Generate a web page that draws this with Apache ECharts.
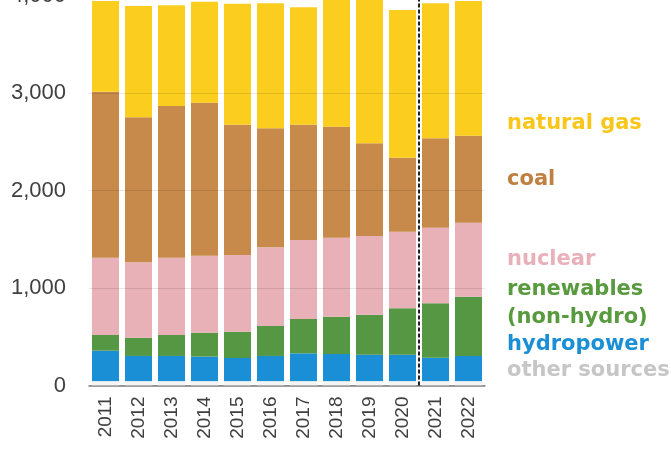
<!DOCTYPE html>
<html>
<head>
<meta charset="utf-8">
<style>
  html, body { margin: 0; padding: 0; background: #fff; }
  #chart { width: 671px; height: 452px; }
</style>
<script src="https://cdn.jsdelivr.net/npm/echarts@6/dist/echarts.min.js"></script>
</head>
<body>
<div id="chart"></div>
<script>
// US electricity generation by source (billion kWh)
const years = ["2011", "2012", "2013", "2014", "2015", "2016", "2017", "2018", "2019", "2020", "2021", "2022"];
const otherSources = [45, 45, 45, 45, 45, 45, 45, 45, 45, 45, 45, 45];
const hydropower = [312, 258, 258, 251, 237, 258, 285, 278, 271, 271, 240, 258];
const renewables = [161, 187, 215, 246, 270, 307, 352, 383, 410, 476, 558, 608];
const nuclear = [793, 774, 793, 789, 786, 807, 810, 810, 807, 785, 775, 759];
const coal = [1702, 1487, 1556, 1570, 1337, 1221, 1183, 1138, 951, 760, 917, 892];
const naturalGas = [931, 1141, 1033, 1036, 1241, 1282, 1204, 1376, 1516, 1514, 1385, 1382];
const yTicks = [0, 1000, 2000, 3000, 4000];
const forecastSplit = 9.5; // between 2020 and 2021

const chart = echarts.init(document.getElementById("chart"));

function barSeries(name, data, color) {
  return {
    name: name,
    type: "bar",
    stack: "total",
    data: data,
    barWidth: 27,
    clip: false,
    itemStyle: { color: color },
    emphasis: { disabled: true },
  };
}

const legendItems = [
  { text: "natural gas", y: 125, color: "#F9C619" },
  { text: "coal", y: 181, color: "#C0803F" },
  { text: "nuclear", y: 261, color: "#E8B0B8" },
  { text: "renewables", y: 291, color: "#589A3E" },
  { text: "(non-hydro)", y: 319, color: "#589A3E" },
  { text: "hydropower", y: 346, color: "#1B8FD6" },
  { text: "other sources", y: 372, color: "#C6C6C6" },
];

const option = {
  animation: false,
  grid: { left: 89, right: 186, top: -4.5, bottom: 66.5, outerBoundsMode: "none", containLabel: false },
  xAxis: [
    {
      type: "category",
      data: years,
      axisLine: { lineStyle: { color: "#7f7f7f", width: 1.5 } },
      axisTick: { length: 5, lineStyle: { color: "#7f7f7f", width: 1.5 } },
      axisLabel: {
        rotate: 90,
        margin: 11,
        color: "#404040",
        fontSize: 19,
        fontFamily: "Liberation Sans",
      },
    },
    {
      type: "value",
      min: -0.5,
      max: 11.5,
      show: false,
    },
  ],
  yAxis: {
    type: "value",
    min: 0,
    max: 4000,
    interval: 1000,
    z: 3,
    axisLine: { show: false },
    axisTick: { show: false },
    splitLine: { lineStyle: { color: "rgba(0,0,0,0.1)", width: 1 } },
    axisLabel: {
      margin: 23,
      color: "#404040",
      fontSize: 22,
      fontFamily: "Liberation Sans",
      formatter: function (v) {
        return yTicks.indexOf(v) >= 0 ? v.toLocaleString("en-US") : "";
      },
    },
  },
  series: [
    barSeries("other sources", otherSources, "#F4F4F4"),
    barSeries("hydropower", hydropower, "#1A8FD5"),
    barSeries("renewables (non-hydro)", renewables, "#559743"),
    barSeries("nuclear", nuclear, "#E8B1B8"),
    barSeries("coal", coal, "#C78A4A"),
    barSeries("natural gas", naturalGas, "#FBCD1F"),
    {
      type: "line",
      xAxisIndex: 1,
      data: [],
      markLine: {
        silent: true,
        symbol: "none",
        label: { show: false },
        lineStyle: { color: "#222", type: [4, 2], width: 2 },
        data: [{ xAxis: forecastSplit }],
      },
      z: 5,
    },
  ],
  graphic: legendItems.map(function (it) {
    return {
      type: "text",
      left: 507,
      top: it.y - 12,
      style: {
        text: it.text,
        fill: it.color,
        font: "bold 21px 'DejaVu Sans'",
      },
    };
  }),
};

chart.setOption(option);
</script>
</body>
</html>
